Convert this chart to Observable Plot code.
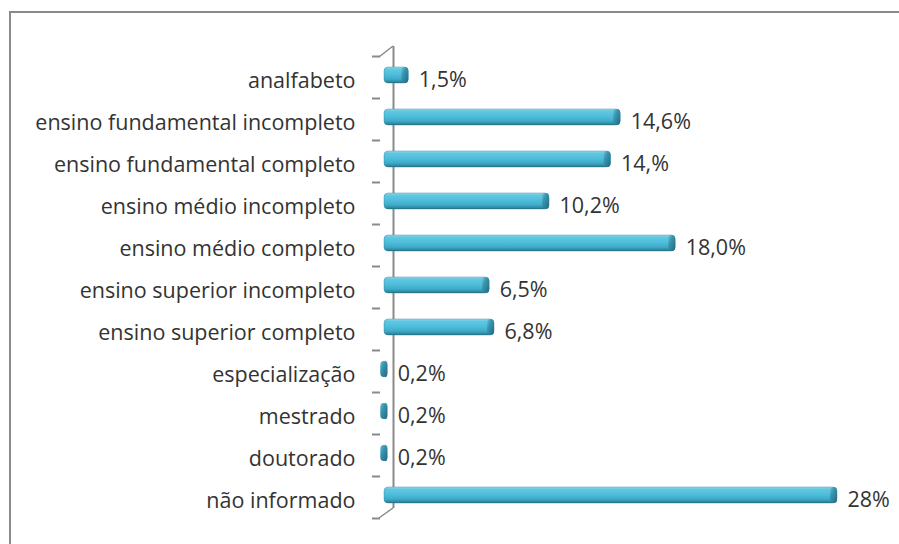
<!DOCTYPE html>
<html><head><meta charset="utf-8">
<script src="https://cdn.jsdelivr.net/npm/d3@7"></script>
<script src="https://cdn.jsdelivr.net/npm/@observablehq/plot@0.6"></script>
<style>
body{margin:0;background:#fff;}
#chart{position:relative;width:899px;height:544px;overflow:hidden;}
#chart svg{position:absolute;left:0;top:0;}
#frame{position:absolute;left:9px;top:11px;width:1000px;height:1000px;border-left:2px solid #8a8a8a;border-top:2px solid #8a8a8a;pointer-events:none;}
</style></head><body><div id="chart"></div>
<script>
const categories = [
  "analfabeto",
  "ensino fundamental incompleto",
  "ensino fundamental completo",
  "ensino médio incompleto",
  "ensino médio completo",
  "ensino superior incompleto",
  "ensino superior completo",
  "especialização",
  "mestrado",
  "doutorado",
  "não informado"
];
const values = [1.5, 14.6, 14.0, 10.2, 18.0, 6.5, 6.8, 0.2, 0.2, 0.2, 28];
const valueLabels = ["1,5%", "14,6%", "14,%", "10,2%", "18,0%", "6,5%", "6,8%", "0,2%", "0,2%", "0,2%", "28%"];

const data = categories.map((c, i) => ({category: c, value: values[i], label: valueLabels[i]}));
const FONT = "'Open Sans', sans-serif";
const AXIS = "#8a8a8a";
const FS = 21.5;

const plot = Plot.plot({
  width: 899,
  height: 544,
  marginLeft: 380,
  marginTop: 56,
  marginBottom: 26,
  marginRight: 62,
  style: {background: "transparent", fontFamily: FONT, overflow: "visible"},
  x: {domain: [0, 28], range: [384, 837], axis: null},
  y: {domain: categories, range: [56, 518], padding: 0, axis: null},
  marks: [
    // back wall of the 3D axis
    Plot.ruleX([0], {dx: 9, dy: -10, stroke: AXIS, strokeWidth: 2}),
    // category tick marks (between categories)
    Plot.axisY({anchor: "left", label: null, tickSize: 8, text: null, dy: -21, stroke: AXIS, strokeWidth: 2, strokeOpacity: 1}),
    Plot.axisY({anchor: "left", label: null, ticks: [categories[categories.length - 1]], tickSize: 8, text: null, dy: 21, stroke: AXIS, strokeWidth: 2, strokeOpacity: 1}),
    // category labels
    Plot.axisY({anchor: "left", label: null, tickSize: 0, tickPadding: 25, dy: 4, fontSize: FS, fill: "#333", textAnchor: "end"}),
    // cylinder bodies
    Plot.barX(data, {y: "category", x: "value", insetTop: 11, insetBottom: 15, rx: 4, fill: "url(#cyl)", stroke: "#2a8099", strokeWidth: 0.4}),
    // end caps
    Plot.barX(data, {y: "category", x1: "value", x2: "value", insetLeft: -7, insetTop: 11, insetBottom: 15, rx: 4, fill: "url(#cap)"}),
    // value labels
    Plot.text(data, {y: "category", x: "value", text: "label", dx: 10, dy: 3, textAnchor: "start", fontSize: FS, fill: "#333"})
  ]
});

const svg = d3.select(plot);
const defs = svg.insert("defs", ":first-child");
const g1 = defs.append("linearGradient").attr("id", "cyl").attr("x1", 0).attr("y1", 0).attr("x2", 0).attr("y2", 1);
[["0%", "#9fdcec"], ["12%", "#62c8e3"], ["45%", "#4fbedb"], ["75%", "#3fabc9"], ["92%", "#2e8aa4"], ["100%", "#23687c"]]
  .forEach(([o, c]) => g1.append("stop").attr("offset", o).attr("stop-color", c));
const g2 = defs.append("linearGradient").attr("id", "cap").attr("x1", 0).attr("y1", 0).attr("x2", 1).attr("y2", 1);
[["0%", "#6cc3da"], ["35%", "#3a96b0"], ["100%", "#22687f"]]
  .forEach(([o, c]) => g2.append("stop").attr("offset", o).attr("stop-color", c));

// 3D corner diagonals of the axis, from the plot's own scales
const xs = plot.scale("x"), ys = plot.scale("y");
const x0 = xs.range[0];
const yTop = ys.range[0], yBot = ys.range[1];
svg.append("line").attr("x1", x0 - 5).attr("y1", yTop + 1).attr("x2", x0 + 9).attr("y2", yTop - 10)
  .attr("stroke", AXIS).attr("stroke-width", 1.5);
svg.append("line").attr("x1", x0 - 5).attr("y1", yBot).attr("x2", x0 + 9).attr("y2", yBot - 10)
  .attr("stroke", AXIS).attr("stroke-width", 1.5);

const chart = document.getElementById("chart");
chart.appendChild(plot);
const frame = document.createElement("div");
frame.id = "frame";
chart.appendChild(frame);
</script>
</body></html>
